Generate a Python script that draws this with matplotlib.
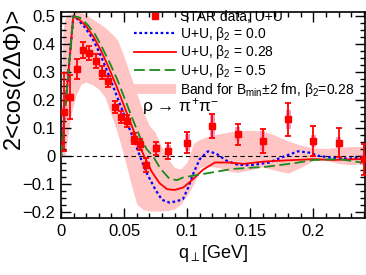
import matplotlib
matplotlib.use("Agg")
import matplotlib.pyplot as plt
from matplotlib.ticker import MultipleLocator

plt.rcParams["font.family"] = ["Liberation Sans", "DejaVu Sans"]
plt.rcParams["mathtext.fontset"] = "custom"
plt.rcParams["mathtext.rm"] = "Liberation Sans"
plt.rcParams["mathtext.it"] = "Liberation Sans"

# STAR data, U+U
q_data = [0.0025, 0.0075, 0.0125, 0.0175, 0.0225, 0.0275, 0.0325, 0.0375,
          0.0425, 0.0475, 0.0525, 0.0575, 0.0625, 0.0675, 0.075, 0.085,
          0.10, 0.12, 0.14, 0.16, 0.18, 0.20, 0.22, 0.24]
v_data = [0.158, 0.212, 0.311, 0.379, 0.367, 0.340, 0.299, 0.268,
          0.176, 0.140, 0.126, 0.063, 0.043, -0.032, 0.028, 0.019,
          0.049, 0.107, 0.079, 0.055, 0.132, 0.055, 0.049, -0.011]
stat_err = [0.14, 0.08, 0.035, 0.028, 0.025, 0.025, 0.022, 0.02,
            0.02, 0.02, 0.02, 0.02, 0.02, 0.025, 0.023, 0.03,
            0.037, 0.043, 0.038, 0.044, 0.058, 0.055, 0.052, 0.055]
sys_err = [0.02, 0.015, 0.012, 0.012, 0.012, 0.01, 0.01, 0.01,
           0.01, 0.01, 0.01, 0.01, 0.01, 0.012, 0.015, 0.02,
           0.03, 0.04, 0.025, 0.035, 0.035, 0.02, 0.02, 0.02]

# theory, beta2 = 0.0
q_b0 = [0.0, 0.0098, 0.013, 0.019, 0.025, 0.031, 0.037, 0.043, 0.049, 0.055,
        0.061, 0.0626, 0.068, 0.075, 0.080, 0.086, 0.092, 0.0967, 0.101,
        0.105, 0.110, 0.1165, 0.123, 0.131, 0.140, 0.150, 0.165, 0.177,
        0.188, 0.197, 0.204, 0.216, 0.229, 0.242]
v_b0 = [0.0, 0.50, 0.49, 0.46, 0.42, 0.365, 0.30, 0.23, 0.16, 0.09,
        0.02, 0.0, -0.06, -0.12, -0.155, -0.165, -0.16, -0.152, -0.11,
        -0.06, -0.01, 0.018, 0.01, -0.015, -0.03, -0.032, -0.022, 0.0,
        0.018, 0.013, 0.002, -0.006, -0.008, -0.003]

# theory, beta2 = 0.28
q_b28 = [0.0, 0.0098, 0.014, 0.020, 0.026, 0.032, 0.038, 0.044, 0.050, 0.056,
         0.062, 0.066, 0.072, 0.078, 0.084, 0.090, 0.097, 0.105, 0.1125,
         0.122, 0.133, 0.145, 0.160, 0.176, 0.200, 0.216, 0.234, 0.242]
v_b28 = [0.0, 0.50, 0.49, 0.465, 0.425, 0.375, 0.315, 0.25, 0.18, 0.11,
         0.04, 0.0, -0.055, -0.095, -0.117, -0.12, -0.111, -0.08, -0.048,
         -0.022, -0.022, -0.027, -0.019, -0.015, -0.01, -0.013, -0.01, -0.01]

# theory, beta2 = 0.5
q_b5 = [0.0, 0.0098, 0.015, 0.021, 0.027, 0.033, 0.039, 0.045, 0.051, 0.057,
        0.063, 0.068, 0.073, 0.079, 0.086, 0.092, 0.097, 0.1125, 0.136,
        0.163, 0.184, 0.200, 0.221, 0.237, 0.242]
v_b5 = [0.0, 0.50, 0.495, 0.47, 0.435, 0.385, 0.33, 0.27, 0.20, 0.13,
        0.065, 0.025, 0.0, -0.045, -0.08, -0.085, -0.075, -0.063, -0.045,
        -0.037, -0.025, -0.013, -0.01, -0.021, -0.022]

# band for B_min +- 2 fm, beta2 = 0.28
q_band = [0.0, 0.0015, 0.003, 0.005, 0.008, 0.012, 0.016, 0.020, 0.025, 0.030,
          0.035, 0.0385, 0.042, 0.045, 0.050, 0.055, 0.060, 0.065, 0.070,
          0.0745, 0.080, 0.085, 0.090, 0.095, 0.100, 0.105, 0.108, 0.110,
          0.115, 0.125, 0.135, 0.140, 0.150, 0.160, 0.170, 0.180, 0.190,
          0.200, 0.210, 0.220, 0.230, 0.242]
band_hi = [0.0, 0.45, 0.49, 0.505, 0.51, 0.515, 0.512, 0.505, 0.49, 0.475,
           0.46, 0.445, 0.43, 0.414, 0.355, 0.29, 0.225, 0.16, 0.11,
           0.087, 0.03, -0.01, -0.04, -0.045, -0.02, 0.046, 0.055, 0.06,
           0.069, 0.08, 0.088, 0.09, 0.093, 0.09, 0.075, 0.055, 0.04,
           0.03, 0.028, 0.032, 0.035, 0.035]
band_lo = [0.0, 0.0, 0.0, 0.06, 0.15, 0.22, 0.258, 0.265, 0.255, 0.24,
           0.21, 0.164, 0.12, 0.08, 0.0, -0.09, -0.17, -0.19, -0.195,
           -0.195, -0.195, -0.193, -0.188, -0.17, -0.14, -0.10, -0.07, -0.04,
           -0.035, -0.04, -0.055, -0.057, -0.048, -0.038, -0.05, -0.06, -0.04,
           -0.015, -0.015, -0.025, -0.03, -0.025]

fig = plt.figure(figsize=(3.66, 2.75), dpi=100)
ax = fig.add_axes([61 / 366, 57 / 275, 304 / 366, 206 / 275])

ax.fill_between(q_band, band_lo, band_hi, color="#ffc4c4", lw=0, zorder=1)
ax.axhline(0, color="black", ls=(0, (4, 3)), lw=0.8, zorder=2)

ax.plot(q_b0, v_b0, color="blue", ls=(0, (1.2, 1.2)), lw=1.6, zorder=3)
ax.plot(q_b28, v_b28, color="red", ls="-", lw=1.3, zorder=3)
ax.plot(q_b5, v_b5, color="#1a8a1a", ls=(0, (6, 2.5)), lw=1.3, zorder=3)

for q, v, s in zip(q_data, v_data, sys_err):
    ax.add_patch(plt.Rectangle((q - 0.002, v - s), 0.004, 2 * s,
                               facecolor="#f29ac8", edgecolor="none", zorder=4))
ax.errorbar(q_data, v_data, yerr=stat_err, fmt="s", color="red", ms=5,
            elinewidth=1.3, capsize=2, capthick=1.3, zorder=5)

# legend handles
h_data, = ax.plot([], [], "s", color="red", ms=5)
h_b0, = ax.plot([], [], color="blue", ls=(0, (1.2, 1.2)), lw=1.6)
h_b28, = ax.plot([], [], color="red", lw=1.3)
h_b5, = ax.plot([], [], color="#1a8a1a", ls=(0, (6, 2.5)), lw=1.3)
h_band, = ax.plot([], [], color="#ffc4c4", lw=7, solid_capstyle="butt")
leg = ax.legend([h_data, h_b0, h_b28, h_b5, h_band],
                ["STAR data, U+U", r"U+U, β$_2$ = 0.0", r"U+U, β$_2$ = 0.28",
                 r"U+U, β$_2$ = 0.5", r"Band for B$_{min}$±2 fm, β$_2$=0.28"],
                loc="upper left", bbox_to_anchor=(134 / 366, 1 - 10 / 275),
                bbox_transform=fig.transFigure, frameon=False, fontsize=10,
                handlelength=3.0, handletextpad=0.3, labelspacing=0.05,
                borderpad=0, borderaxespad=0)
leg.set_zorder(7)

ax.text(0.0645, 0.178, r"ρ → π$^{+}$π$^{-}$", fontsize=12.5, ha="left",
        va="center", zorder=6)

ax.set_xlim(0, 0.241)
ax.set_ylim(-0.22, 0.515)
ax.xaxis.set_major_locator(MultipleLocator(0.05))
ax.xaxis.set_minor_locator(MultipleLocator(0.01))
ax.yaxis.set_major_locator(MultipleLocator(0.1))
ax.yaxis.set_minor_locator(MultipleLocator(0.025))
ax.set_xticks([0, 0.05, 0.1, 0.15, 0.2])
ax.set_xticklabels(["0", "0.05", "0.1", "0.15", "0.2"])
ax.set_yticks([-0.2, -0.1, 0, 0.1, 0.2, 0.3, 0.4, 0.5])
ax.set_yticklabels(["\u22120.2", "\u22120.1", "0", "0.1", "0.2", "0.3", "0.4", "0.5"])
ax.tick_params(which="both", direction="in", top=True, right=True,
               labelsize=12, width=1)
ax.tick_params(which="major", length=7, pad=4)
ax.tick_params(which="minor", length=3.5)
for sp in ax.spines.values():
    sp.set_linewidth(1.2)

ax.set_xlabel(r"q$_{\perp}$[GeV]", fontsize=13, labelpad=3)
ax.set_ylabel("2<cos(2ΔΦ)>", fontsize=17, loc="top")
ax.yaxis.set_label_coords(-0.12, 1.02)

fig.savefig("out.png", dpi=100)
